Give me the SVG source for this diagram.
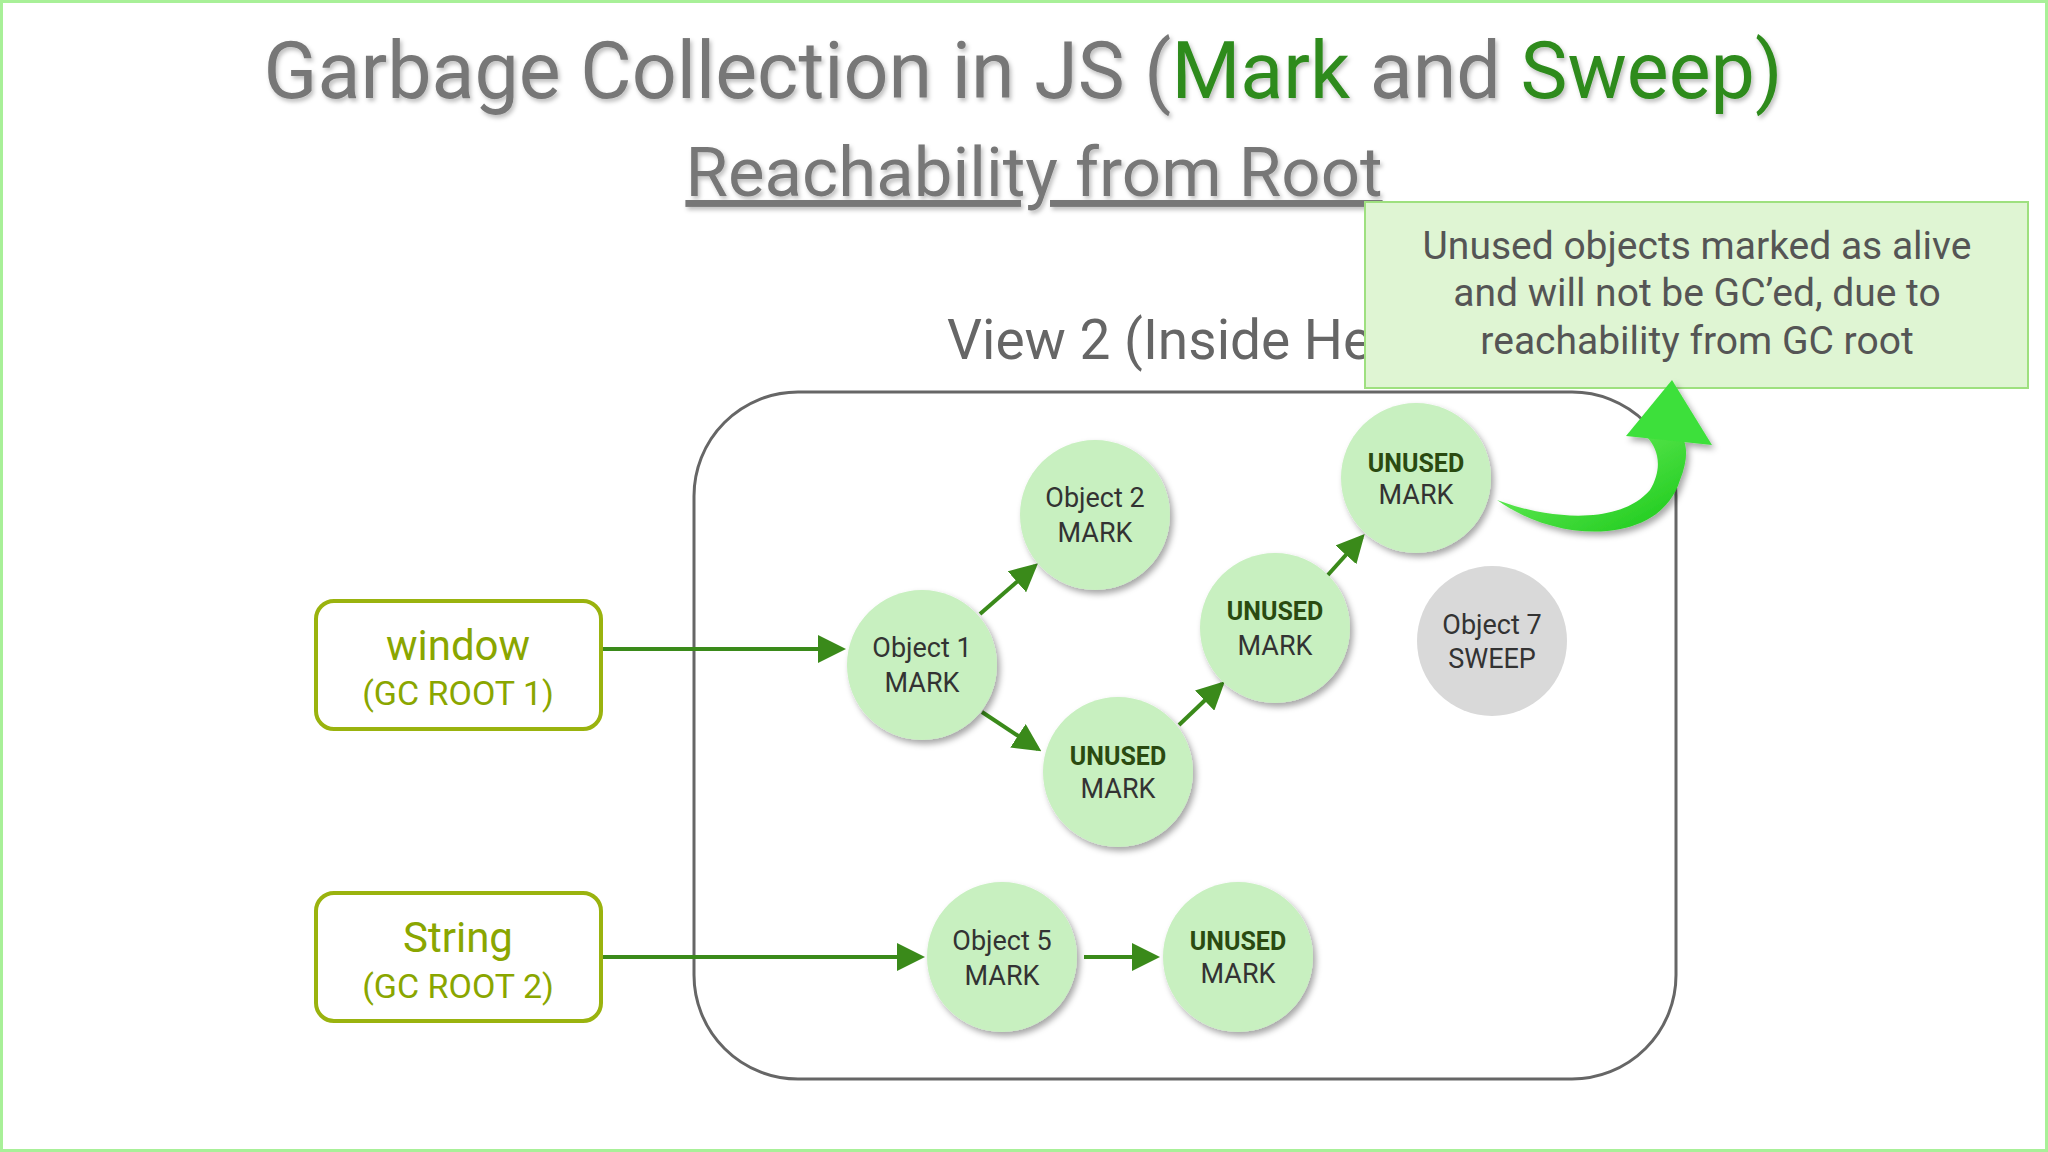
<svg xmlns="http://www.w3.org/2000/svg" width="2048" height="1152" viewBox="0 0 2048 1152">
<defs>
<filter id="sh" x="-30%" y="-30%" width="160%" height="160%"><feDropShadow dx="3" dy="4" stdDeviation="3" flood-color="#000" flood-opacity="0.35"/></filter>
<filter id="tsh"><feDropShadow dx="2" dy="3" stdDeviation="2" flood-color="#000" flood-opacity="0.25"/></filter>
<marker id="ah" markerWidth="7" markerHeight="7" refX="6" refY="3.5" orient="auto" markerUnits="strokeWidth"><path d="M0,0 L7,3.5 L0,7 Z" fill="#3a8a1a"/></marker>
<linearGradient id="g" x1="0" y1="0" x2="1" y2="1"><stop offset="0" stop-color="#7cf56a"/><stop offset="1" stop-color="#18c818"/></linearGradient>
<style>
.t{font-family:Roboto,"Liberation Sans",sans-serif}
.c{fill:#c8f0c0;filter:url(#sh)}
.cl{font-family:Roboto,"Liberation Sans",sans-serif;font-size:27px;fill:#333;text-anchor:middle}
.u{font-weight:bold;fill:#2a4a10;font-size:25px}
.r{fill:#fff;stroke:#9ab30e;stroke-width:4}
.rl{font-family:Roboto,"Liberation Sans",sans-serif;fill:#8aa600;text-anchor:middle}
.a{stroke:#3a8a1a;stroke-width:4;fill:none;marker-end:url(#ah)}
</style>
</defs>
<rect x="0" y="0" width="2048" height="1152" fill="#fff"/>
<rect x="1.5" y="1.5" width="2045" height="1149" fill="none" stroke="#a8f098" stroke-width="3"/>
<text class="t" x="1023" y="98" font-size="79" text-anchor="middle" fill="#777" filter="url(#tsh)">Garbage Collection in JS (<tspan fill="#2e8b1e">Mark</tspan> and <tspan fill="#2e8b1e">Sweep)</tspan></text>
<text class="t" x="1034" y="196" font-size="69" text-anchor="middle" fill="#777" text-decoration="underline" filter="url(#tsh)">Reachability from Root</text>
<text class="t" x="947" y="359" font-size="55" fill="#666">View 2 (Inside He</text>
<rect x="694" y="392" width="982" height="687" rx="104" fill="none" stroke="#666" stroke-width="3"/>
<g id="connectors">
<line class="a" x1="603" y1="649" x2="842" y2="649"/>
<line class="a" x1="603" y1="957" x2="921" y2="957"/>
<line class="a" x1="1084" y1="957" x2="1156" y2="957"/>
<line class="a" x1="980" y1="614" x2="1035" y2="566"/>
<line class="a" x1="982" y1="712" x2="1038" y2="749"/>
<line class="a" x1="1179" y1="725" x2="1222" y2="684"/>
<line class="a" x1="1327" y1="576" x2="1362" y2="537"/>
</g>
<g id="window"><rect class="r" x="316" y="601" width="285" height="128" rx="18"/><text class="rl" x="458" y="660" font-size="42">window</text><text class="rl" x="458" y="705" font-size="34">(GC ROOT 1)</text></g>
<g id="string"><rect class="r" x="316" y="893" width="285" height="128" rx="18"/><text class="rl" x="458" y="952" font-size="42">String</text><text class="rl" x="458" y="998" font-size="34">(GC ROOT 2)</text></g>
<g id="obj1"><circle class="c" cx="922" cy="665" r="75"/><text class="cl" x="922" y="657">Object 1</text><text class="cl" x="922" y="692">MARK</text></g>
<g id="obj2"><circle class="c" cx="1095" cy="515" r="75"/><text class="cl" x="1095" y="507">Object 2</text><text class="cl" x="1095" y="542">MARK</text></g>
<g id="unusedA"><circle class="c" cx="1118" cy="772" r="75"/><text class="cl u" x="1118" y="765">UNUSED</text><text class="cl" x="1118" y="798">MARK</text></g>
<g id="unusedB"><circle class="c" cx="1275" cy="628" r="75"/><text class="cl u" x="1275" y="620">UNUSED</text><text class="cl" x="1275" y="655">MARK</text></g>
<g id="unusedC"><circle class="c" cx="1416" cy="478" r="75"/><text class="cl u" x="1416" y="472">UNUSED</text><text class="cl" x="1416" y="504">MARK</text></g>
<g id="obj7"><circle cx="1492" cy="641" r="75" fill="#d9d9d9"/><text class="cl" x="1492" y="634">Object 7</text><text class="cl" x="1492" y="668">SWEEP</text></g>
<g id="obj5"><circle class="c" cx="1002" cy="957" r="75"/><text class="cl" x="1002" y="950">Object 5</text><text class="cl" x="1002" y="985">MARK</text></g>
<g id="unusedD"><circle class="c" cx="1238" cy="957" r="75"/><text class="cl u" x="1238" y="950">UNUSED</text><text class="cl" x="1238" y="983">MARK</text></g>
<g id="callout">
<rect x="1365" y="202" width="663" height="186" fill="#dff5d3" stroke="#9ee07f" stroke-width="2"/>
<text class="t" x="1697" y="259" font-size="39" text-anchor="middle" fill="#555">Unused objects marked as alive</text>
<text class="t" x="1697" y="306" font-size="39" text-anchor="middle" fill="#555">and will not be GC’ed, due to</text>
<text class="t" x="1697" y="354" font-size="39" text-anchor="middle" fill="#555">reachability from GC root</text>
</g>
<g id="bigarrow" filter="url(#sh)">
<path d="M1497,500 C1560,545 1660,545 1680,480 C1690,455 1688,435 1672,428 L1646,436 C1660,450 1662,470 1650,490 C1620,525 1550,520 1497,500 Z" fill="url(#g)"/>
<path d="M1626,436 L1672,380 L1712,445 Z" fill="#3ee03a"/>
</g>
</svg>
